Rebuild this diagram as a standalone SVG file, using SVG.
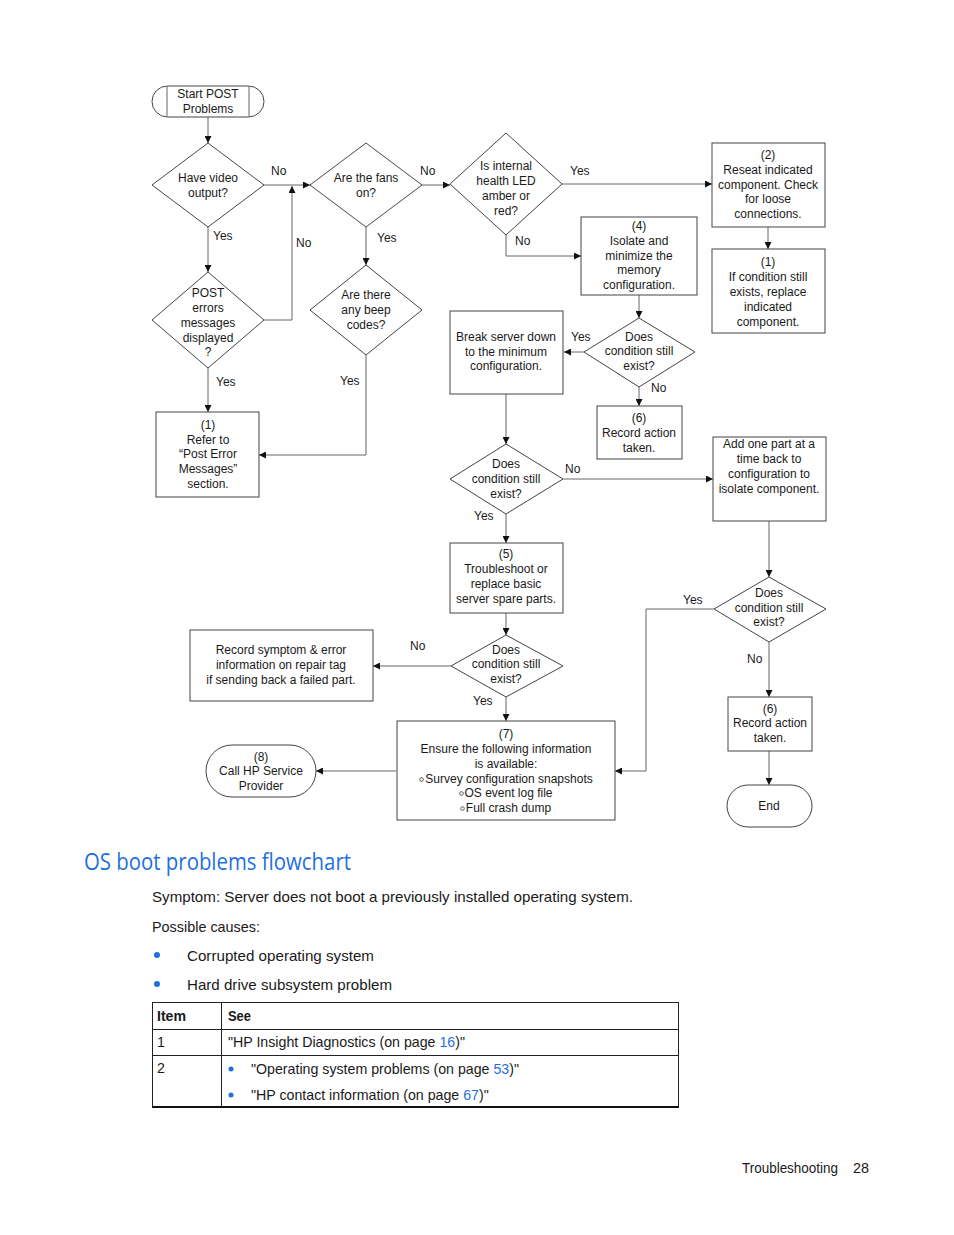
<svg xmlns="http://www.w3.org/2000/svg" width="954" height="1235" viewBox="0 0 954 1235">
<style>
.bx{fill:#fff;stroke:#444;stroke-width:1}
.cn{fill:none;stroke:#666;stroke-width:1}
.t{font-family:"Liberation Sans",Arial,sans-serif;font-size:12px;fill:#1a1a1a;text-anchor:middle}
.lb{font-family:"Liberation Sans",Arial,sans-serif;font-size:12px;fill:#1a1a1a}
.bd{font-family:"Liberation Sans",Arial,sans-serif;font-size:15px;fill:#1a1a1a}
.tr{font-family:"Liberation Sans",Arial,sans-serif;font-size:14.2px;fill:#1a1a1a}
.bl{fill:#1f6fe0}
.oc{fill:none;stroke:#333;stroke-width:0.8}
</style>
<defs>
<marker id="ah" viewBox="0 0 10 10" refX="10" refY="5" markerWidth="9" markerHeight="7" markerUnits="userSpaceOnUse" orient="auto">
<path d="M0,0 L10,5 L0,10 z" fill="#111"/>
</marker>
</defs>
<rect width="954" height="1235" fill="#fff"/>

<g id="connectors">
<path class="cn" d="M208,117 V143" marker-end="url(#ah)"/>
<path class="cn" d="M264,185 H310" marker-end="url(#ah)"/>
<path class="cn" d="M264,320 H292 V186" marker-end="url(#ah)"/>
<path class="cn" d="M422,185 H450" marker-end="url(#ah)"/>
<path class="cn" d="M562,184 H712" marker-end="url(#ah)"/>
<path class="cn" d="M768,227 V249" marker-end="url(#ah)"/>
<path class="cn" d="M506,235 V256 H581" marker-end="url(#ah)"/>
<path class="cn" d="M639,295 V318" marker-end="url(#ah)"/>
<path class="cn" d="M584,352 H564" marker-end="url(#ah)"/>
<path class="cn" d="M639,387 V406" marker-end="url(#ah)"/>
<path class="cn" d="M506,394 V444" marker-end="url(#ah)"/>
<path class="cn" d="M563,479 H713" marker-end="url(#ah)"/>
<path class="cn" d="M506,514 V543" marker-end="url(#ah)"/>
<path class="cn" d="M506,613 V635" marker-end="url(#ah)"/>
<path class="cn" d="M451,666 H373" marker-end="url(#ah)"/>
<path class="cn" d="M506,697 V721" marker-end="url(#ah)"/>
<path class="cn" d="M396,771 H316" marker-end="url(#ah)"/>
<path class="cn" d="M769,521 V577" marker-end="url(#ah)"/>
<path class="cn" d="M714,609 H646 V771 H615" marker-end="url(#ah)"/>
<path class="cn" d="M769,642 V697" marker-end="url(#ah)"/>
<path class="cn" d="M769,751 V785" marker-end="url(#ah)"/>
<path class="cn" d="M208,227 V272" marker-end="url(#ah)"/>
<path class="cn" d="M208,368 V412" marker-end="url(#ah)"/>
<path class="cn" d="M366,227 V265" marker-end="url(#ah)"/>
<path class="cn" d="M366,355 V455 H259" marker-end="url(#ah)"/>
<text class="lb" x="271" y="175">No</text>
<text class="lb" x="296" y="247">No</text>
<text class="lb" x="420" y="175">No</text>
<text class="lb" x="570" y="175">Yes</text>
<text class="lb" x="515" y="245">No</text>
<text class="lb" x="571" y="341">Yes</text>
<text class="lb" x="651" y="392">No</text>
<text class="lb" x="565" y="473">No</text>
<text class="lb" x="474" y="520">Yes</text>
<text class="lb" x="410" y="650">No</text>
<text class="lb" x="473" y="705">Yes</text>
<text class="lb" x="683" y="604">Yes</text>
<text class="lb" x="747" y="663">No</text>
<text class="lb" x="213" y="240">Yes</text>
<text class="lb" x="216" y="386">Yes</text>
<text class="lb" x="377" y="242">Yes</text>
<text class="lb" x="340" y="385">Yes</text>
</g>

<g id="start">
<rect class="bx" x="152" y="86" width="112" height="31" rx="15.5"/>
<path class="cn" d="M167,86 V117 M249,86 V117" stroke="#444"/>
<text class="t" x="208" y="98">Start POST</text>
<text class="t" x="208" y="113">Problems</text>
</g>

<g id="d-video">
<polygon class="bx" points="208,143 264,185 208,227 152,185"/>
<text class="t" x="208" y="182">Have video</text>
<text class="t" x="208" y="197">output?</text>
</g>

<g id="d-fans">
<polygon class="bx" points="366,143 422,185 366,227 310,185"/>
<text class="t" x="366" y="182">Are the fans</text>
<text class="t" x="366" y="197">on?</text>
</g>

<g id="d-led">
<polygon class="bx" points="506,133 562,184 506,235 450,184"/>
<text class="t" x="506" y="170">Is internal</text>
<text class="t" x="506" y="185">health LED</text>
<text class="t" x="506" y="200">amber or</text>
<text class="t" x="506" y="215">red?</text>
</g>

<g id="b-reseat">
<rect class="bx" x="712" y="143" width="113" height="84"/>
<text class="t" x="768" y="159">(2)</text>
<text class="t" x="768" y="174">Reseat indicated</text>
<text class="t" x="768" y="189">component. Check</text>
<text class="t" x="768" y="203">for loose</text>
<text class="t" x="768" y="218">connections.</text>
</g>

<g id="b-replace">
<rect class="bx" x="712" y="249" width="113" height="84"/>
<text class="t" x="768" y="266">(1)</text>
<text class="t" x="768" y="281">If condition still</text>
<text class="t" x="768" y="296">exists, replace</text>
<text class="t" x="768" y="311">indicated</text>
<text class="t" x="768" y="326">component.</text>
</g>

<g id="b-memory">
<rect class="bx" x="581" y="217" width="116" height="78"/>
<text class="t" x="639" y="230">(4)</text>
<text class="t" x="639" y="245">Isolate and</text>
<text class="t" x="639" y="260">minimize the</text>
<text class="t" x="639" y="274">memory</text>
<text class="t" x="639" y="289">configuration.</text>
</g>

<g id="d-exist1">
<polygon class="bx" points="639,318 695,352 639,387 584,352"/>
<text class="t" x="639" y="341">Does</text>
<text class="t" x="639" y="355">condition still</text>
<text class="t" x="639" y="370">exist?</text>
</g>

<g id="b-break">
<rect class="bx" x="450" y="311" width="113" height="83"/>
<text class="t" x="506" y="341">Break server down</text>
<text class="t" x="506" y="356">to the minimum</text>
<text class="t" x="506" y="370">configuration.</text>
</g>

<g id="b-record1">
<rect class="bx" x="597" y="406" width="85" height="53"/>
<text class="t" x="639" y="422">(6)</text>
<text class="t" x="639" y="437">Record action</text>
<text class="t" x="639" y="452">taken.</text>
</g>

<g id="d-exist2">
<polygon class="bx" points="506,444 563,479 506,514 450,479"/>
<text class="t" x="506" y="468">Does</text>
<text class="t" x="506" y="483">condition still</text>
<text class="t" x="506" y="498">exist?</text>
</g>

<g id="b-add">
<rect class="bx" x="713" y="437" width="113" height="84"/>
<text class="t" x="769" y="448">Add one part at a</text>
<text class="t" x="769" y="463">time back to</text>
<text class="t" x="769" y="478">configuration to</text>
<text class="t" x="769" y="493">isolate component.</text>
</g>

<g id="b-troubleshoot">
<rect class="bx" x="450" y="543" width="113" height="70"/>
<text class="t" x="506" y="558">(5)</text>
<text class="t" x="506" y="573">Troubleshoot or</text>
<text class="t" x="506" y="588">replace basic</text>
<text class="t" x="506" y="603">server spare parts.</text>
</g>

<g id="d-exist3">
<polygon class="bx" points="506,635 563,666 506,697 451,666"/>
<text class="t" x="506" y="654">Does</text>
<text class="t" x="506" y="668">condition still</text>
<text class="t" x="506" y="683">exist?</text>
</g>

<g id="b-symptom">
<rect class="bx" x="190" y="630" width="183" height="71"/>
<text class="t" x="281" y="654">Record symptom &amp; error</text>
<text class="t" x="281" y="669">information on repair tag</text>
<text class="t" x="281" y="684">if sending back a failed part.</text>
</g>

<g id="b-ensure">
<rect class="bx" x="397" y="721" width="218" height="99"/>
<text class="t" x="506" y="738">(7)</text>
<text class="t" x="506" y="753">Ensure the following information</text>
<text class="t" x="506" y="768">is available:</text>
<circle class="oc" cx="421.5" cy="779.5" r="1.8"/>
<text class="t" x="509" y="783">Survey configuration snapshots</text>
<circle class="oc" cx="461.5" cy="793.5" r="1.8"/>
<text class="t" x="508.5" y="797">OS event log file</text>
<circle class="oc" cx="462.5" cy="808.5" r="1.8"/>
<text class="t" x="508.5" y="812">Full crash dump</text>
</g>

<g id="p-call">
<rect class="bx" x="206" y="745" width="110" height="52" rx="26"/>
<text class="t" x="261" y="761">(8)</text>
<text class="t" x="261" y="775">Call HP Service</text>
<text class="t" x="261" y="790">Provider</text>
</g>

<g id="d-exist4">
<polygon class="bx" points="769,577 826,609 769,642 714,609"/>
<text class="t" x="769" y="597">Does</text>
<text class="t" x="769" y="612">condition still</text>
<text class="t" x="769" y="626">exist?</text>
</g>

<g id="b-record2">
<rect class="bx" x="728" y="697" width="84" height="54"/>
<text class="t" x="770" y="713">(6)</text>
<text class="t" x="770" y="727">Record action</text>
<text class="t" x="770" y="742">taken.</text>
</g>

<g id="p-end">
<rect class="bx" x="727" y="785" width="85" height="42" rx="21"/>
<text class="t" x="769" y="810">End</text>
</g>

<g id="d-post">
<polygon class="bx" points="208,272 264,320 208,368 152,320"/>
<text class="t" x="208" y="297">POST</text>
<text class="t" x="208" y="312">errors</text>
<text class="t" x="208" y="327">messages</text>
<text class="t" x="208" y="342">displayed</text>
<text class="t" x="208" y="356">?</text>
</g>

<g id="b-refer">
<rect class="bx" x="156" y="412" width="103" height="85"/>
<text class="t" x="208" y="429">(1)</text>
<text class="t" x="208" y="444">Refer to</text>
<text class="t" x="208" y="458">“Post Error</text>
<text class="t" x="208" y="473">Messages”</text>
<text class="t" x="208" y="488">section.</text>
</g>

<g id="d-beep">
<polygon class="bx" points="366,265 422,310 366,355 310,310"/>
<text class="t" x="366" y="299">Are there</text>
<text class="t" x="366" y="314">any beep</text>
<text class="t" x="366" y="329">codes?</text>
</g>

<g id="page-text">
<text x="84" y="870" font-family="'Open Sans','Liberation Sans',sans-serif" font-size="23" fill="#1f6fe0" textLength="267" lengthAdjust="spacingAndGlyphs">OS boot problems flowchart</text>
<text class="bd" x="152" y="902" textLength="481" lengthAdjust="spacingAndGlyphs">Symptom: Server does not boot a previously installed operating system.</text>
<text class="bd" x="152" y="932" textLength="108" lengthAdjust="spacingAndGlyphs">Possible causes:</text>
<circle class="bl" cx="157" cy="955" r="3"/>
<circle class="bl" cx="157" cy="984" r="3"/>
<text class="bd" x="187" y="961" textLength="187" lengthAdjust="spacingAndGlyphs">Corrupted operating system</text>
<text class="bd" x="187" y="990" textLength="205" lengthAdjust="spacingAndGlyphs">Hard drive subsystem problem</text>
</g>

<g id="table">
<path d="M152.5,1002.5 H678.5 M152.5,1029.5 H678.5 M152.5,1055.5 H678.5 M152.5,1002 V1107 M221.5,1002 V1107 M678.5,1002 V1107" fill="none" stroke="#222" stroke-width="1"/>
<path d="M152,1107 H679" fill="none" stroke="#111" stroke-width="2"/>
<text class="bd" x="157" y="1021" font-weight="bold" textLength="29" lengthAdjust="spacingAndGlyphs">Item</text>
<text class="bd" x="228" y="1021" font-weight="bold" textLength="23" lengthAdjust="spacingAndGlyphs">See</text>
<text class="tr" x="157" y="1047">1</text>
<text class="tr" x="228" y="1047">"HP Insight Diagnostics (on page <tspan class="bl">16</tspan>)"</text>
<text class="tr" x="157" y="1073">2</text>
<circle class="bl" cx="231" cy="1069" r="2.5"/>
<circle class="bl" cx="231" cy="1095" r="2.5"/>
<text class="tr" x="251" y="1074">"Operating system problems (on page <tspan class="bl">53</tspan>)"</text>
<text class="tr" x="251" y="1100">"HP contact information (on page <tspan class="bl">67</tspan>)"</text>
</g>

<g id="footer">
<text class="bd" x="742" y="1173" font-size="14" textLength="96" lengthAdjust="spacingAndGlyphs">Troubleshooting</text>
<text class="bd" x="853" y="1173" font-size="14" textLength="16" lengthAdjust="spacingAndGlyphs">28</text>
</g>
</svg>
